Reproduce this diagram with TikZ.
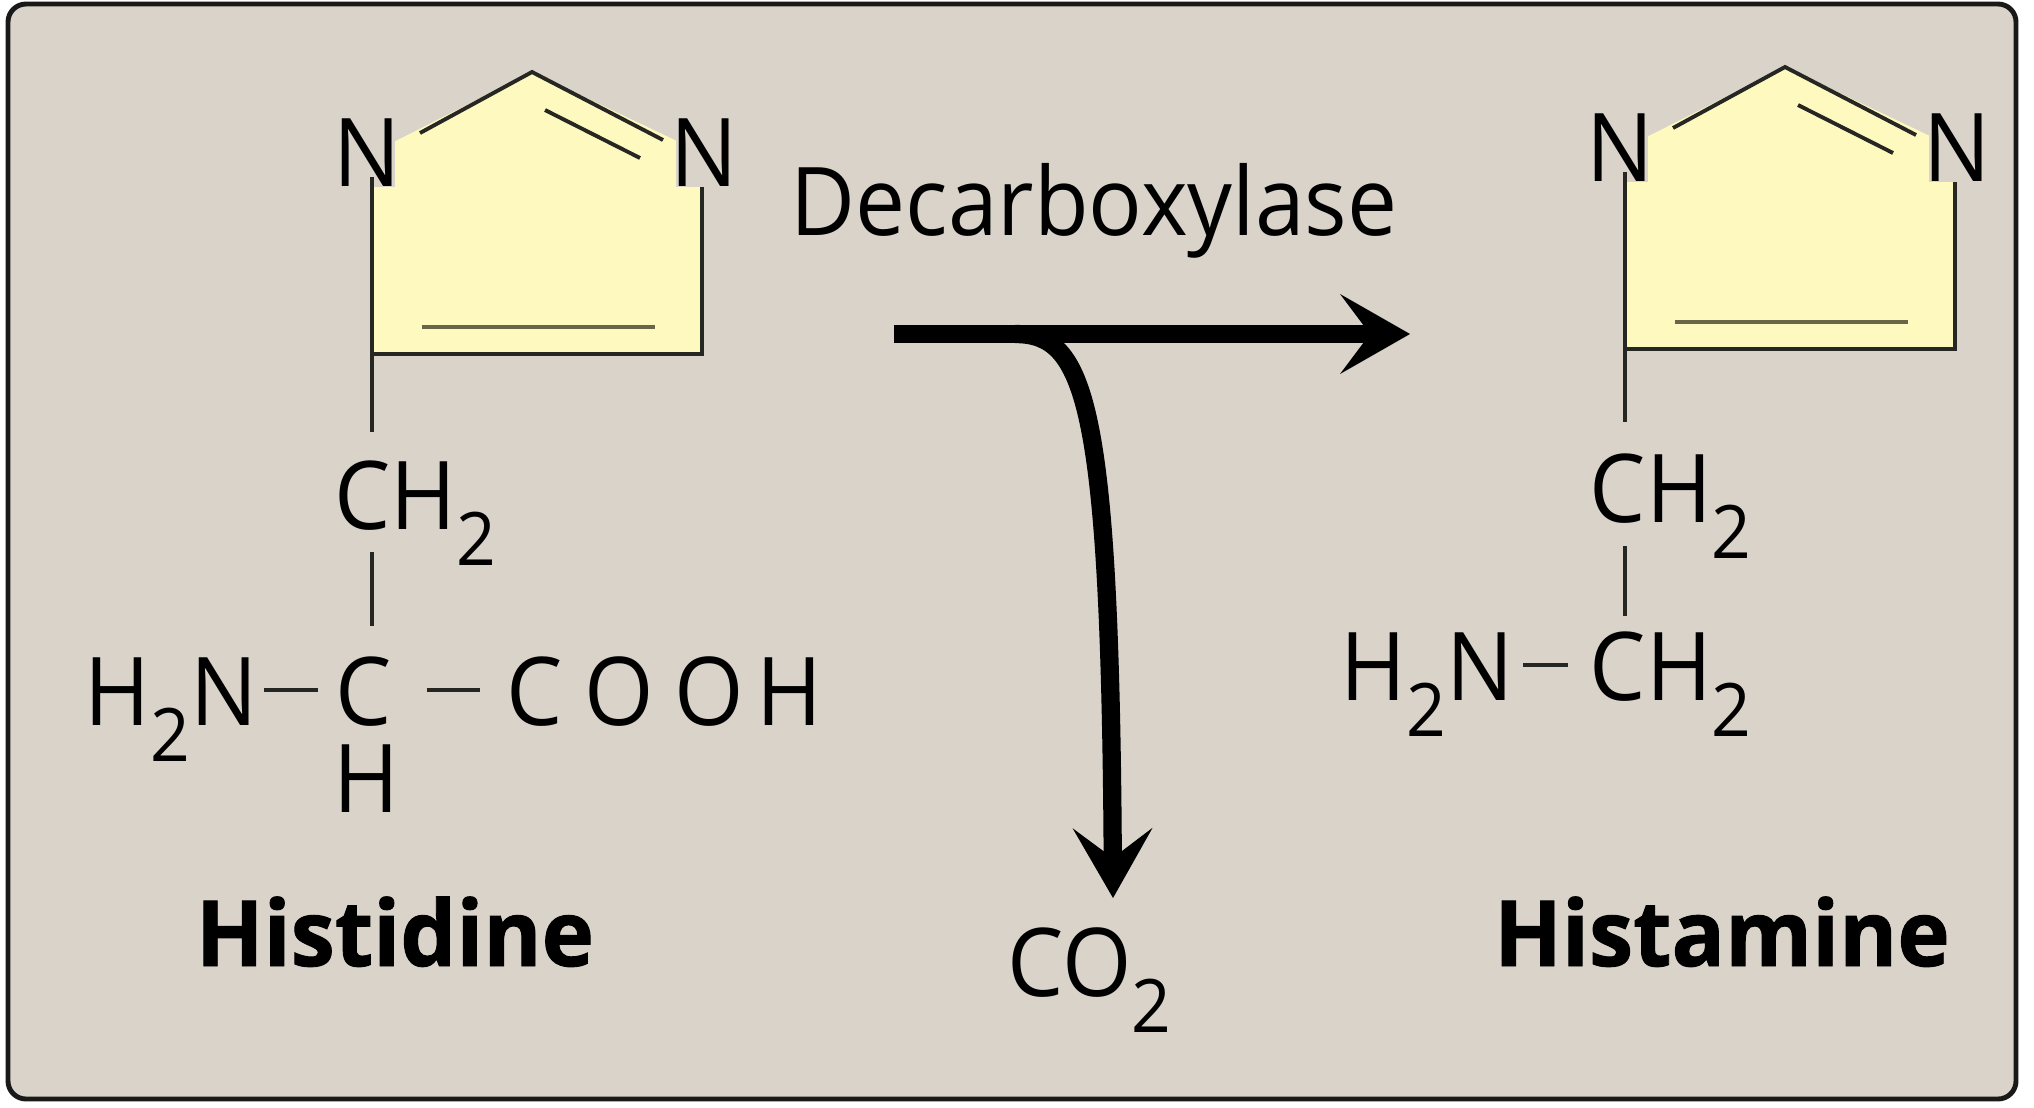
\documentclass[tikz,border=0pt]{standalone}
\usepackage{fontspec}
\setmainfont{Open Sans}[FakeStretch=0.94,BoldFeatures={FakeStretch=0.97,FakeBold=1}]
\usetikzlibrary{arrows.meta}
\definecolor{panel}{RGB}{217,211,202}
\definecolor{ringfill}{RGB}{253,249,191}
\definecolor{bondcol}{RGB}{38,38,34}
\definecolor{innerbond}{RGB}{105,101,72}
\newcommand{\subs}[1]{\raisebox{-3.6mm}{\fontsize{21}{21}\selectfont #1}}

\begin{document}
\begin{tikzpicture}
   [x=0.1mm,y=-0.1mm,
    bond/.style={draw=bondcol,line width=1.1pt},
    atom/.style={inner sep=0pt,font=\fontsize{27}{32}\selectfont},
    moltitle/.style={inner sep=0pt,font=\fontsize{26}{30}\selectfont\bfseries},
    react/.style={line width=5.2pt,-{Stealth[length=7mm,width=8mm,inset=3mm,line width=0pt]}}]
\useasboundingbox (0,0) rectangle (2034,1107);
\fill[white] (0,0) rectangle (2034,1107);
\draw[line width=1.4pt,rounded corners=1.8mm,fill=panel,draw=black!90] (8,4) rectangle (2016,1099);

\foreach \sx/\sy/\mol in {372/354/hd,1625/349/hm}{
  \begin{scope}[shift={(\sx,\sy)}]
    \fill[ringfill] (0,0) -- (0,-201) -- (160,-282) -- (330,-201) -- (330,0) -- cycle;
    \node[atom,fill=panel,inner xsep=-0.6mm] (\mol-n1) at (-5,-201) {N};
    \node[atom,fill=panel,inner xsep=-0.6mm] (\mol-n3) at (332,-201) {N};
    \draw[bond] (0,-177) -- (0,0) -- (330,0) -- (330,-167);
    \draw[bond] (48,-221) -- (160,-282) -- (291,-214);
    \draw[bond] (173,-244) -- (268,-196);
    \draw[bond,draw=innerbond] (50,-27) -- (283,-27);
    \coordinate (\mol-base) at (0,0);
  \end{scope}
}

% histidine
\node[atom,anchor=base west] (hd-ch2) at (334,529) {CH\subs{2}};
\node[atom,anchor=base east] (hd-nh2) at (258,725) {H\subs{2}N};
\node[atom,anchor=base] (hd-c) at (364,725) {C};
\node[atom,anchor=base] (hd-h) at (366,812) {H};
\node[atom,anchor=base west] (hd-cooh) at (506,725) {C\kern2.2mm O\kern2mm O\kern1.3mm H};
\node[moltitle,anchor=base] (hd-title) at (395,966) {Histidine};

\draw[bond,shorten >=2.8mm] (hd-base) -- (hd-base |- hd-ch2.north);
\draw[bond,shorten <=2.3mm,shorten >=3mm] (hd-base |- hd-ch2.base) -- (hd-base |- hd-c.north);
\draw[bond,shorten <=0.6mm,shorten >=1.7mm] ([yshift=3.5mm]hd-nh2.base east) -- ([yshift=3.5mm]hd-c.base west);
\draw[bond,shorten <=3.4mm,shorten >=2.6mm] ([yshift=3.5mm]hd-c.base east) -- ([yshift=3.5mm]hd-cooh.base west);

% histamine
\node[atom,anchor=base west] (hm-ch2a) at (1589,522) {CH\subs{2}};
\node[atom,anchor=base west] (hm-ch2b) at (1589,700) {CH\subs{2}};
\node[atom,anchor=base east] (hm-nh2) at (1514,700) {H\subs{2}N};
\node[moltitle,anchor=base] (hm-title) at (1722,966) {Histamine};

\draw[bond,shorten >=3.1mm] (hm-base) -- (hm-base |- hm-ch2a.north);
\draw[bond,shorten <=2.4mm,shorten >=1.5mm] (hm-base |- hm-ch2a.base) -- (hm-base |- hm-ch2b.north);
\draw[bond,shorten <=0.9mm,shorten >=2.1mm] ([yshift=3.5mm]hm-nh2.base east) -- ([yshift=3.5mm]hm-ch2b.base west);

% reaction
\node[atom,anchor=base west] (enzyme) at (790,235) {Decarboxylase};
\node[atom,anchor=base west] (co2) at (1007,996) {CO\subs{2}};
\coordinate (arr-start) at (894,334);
\coordinate (arr-end) at (1410,334);
\coordinate (fork) at (1015,334);
\coordinate (co2-tip) at (1113,898);
\draw[react] (arr-start) -- (arr-end);
\draw[react] (fork) .. controls (1085,334) and (1110,400) .. (co2-tip);
\end{tikzpicture}
\end{document}
